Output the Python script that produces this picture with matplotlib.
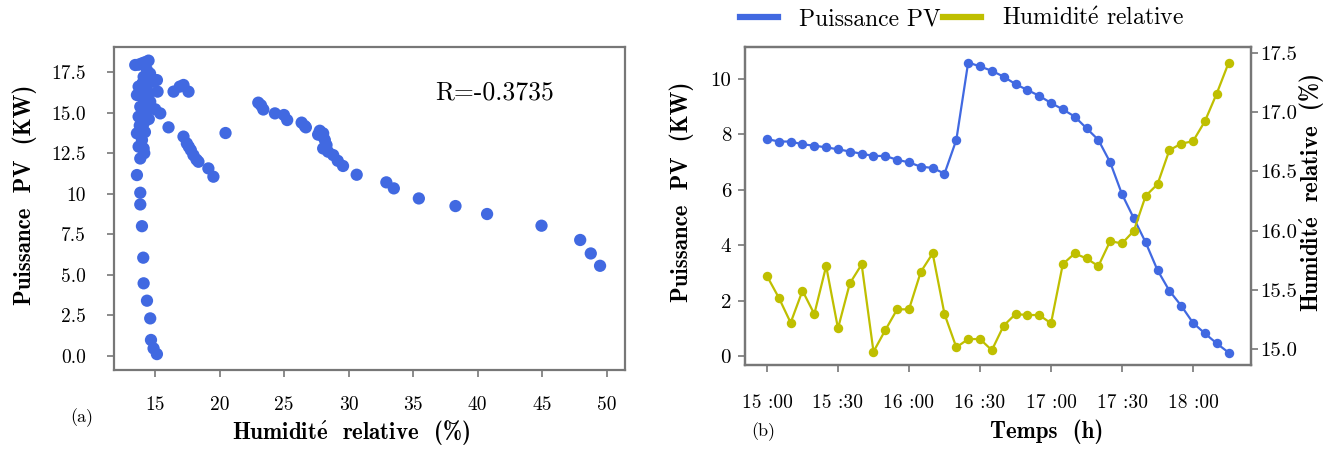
import matplotlib
matplotlib.use("Agg")
import matplotlib.pyplot as plt
from matplotlib.lines import Line2D
from matplotlib.ticker import FormatStrFormatter

plt.rcParams['font.family'] = 'serif'
plt.rcParams['font.serif'] = ['cmr10', 'DejaVu Serif']
plt.rcParams['mathtext.fontset'] = 'cm'
plt.rcParams['axes.unicode_minus'] = False

# ---------------- data (a) ----------------
humidity_a = [
    13.58, 13.84, 13.84, 13.97, 14.07, 14.10, 14.36, 14.61, 14.67, 14.87, 15.13,
    13.45, 13.70, 13.97, 14.20, 14.48, 14.36, 14.10, 15.13, 13.71, 14.00, 14.36,
    15.18, 13.58, 14.10, 14.61, 14.30, 13.84, 14.36, 15.39, 13.71, 14.10, 14.00,
    14.50, 13.58, 13.97, 13.71, 14.10, 13.84, 14.20, 14.60, 14.80, 15.00, 13.90,
    14.25, 13.80, 14.45, 14.15,
    16.03, 16.42, 16.90, 17.19, 17.58,
    17.19, 17.45, 17.60, 17.76, 17.96, 18.20, 18.35, 19.12, 19.51,
    20.45,
    22.99, 23.20, 23.38, 24.28, 24.98, 25.23, 26.35, 26.60, 26.68, 27.63, 27.76,
    28.02, 28.02, 28.15, 28.28, 28.02, 28.40, 28.80, 29.15, 29.56, 30.62, 32.92,
    33.50, 35.44, 38.28, 40.73, 44.95, 47.95, 48.77, 49.49,
]
power_a = [
    11.15, 10.06, 9.34, 8.00, 6.06, 4.48, 3.41, 2.32, 0.99, 0.47, 0.12,
    17.93, 17.95, 18.03, 18.10, 18.20, 17.62, 17.20, 17.00, 16.60, 16.80, 16.39,
    16.29, 16.08, 15.87, 15.67, 16.00, 15.36, 15.16, 14.95, 14.75, 14.33, 14.90,
    14.60, 13.72, 13.31, 12.90, 12.79, 12.17, 13.80, 17.40, 16.90, 15.20, 16.30,
    15.50, 14.20, 16.10, 12.50,
    14.09, 16.29, 16.60, 16.70, 16.29,
    13.52, 13.10, 12.90, 12.69, 12.38, 12.10, 11.97, 11.56, 11.05,
    13.74,
    15.61, 15.45, 15.19, 14.95, 14.85, 14.54, 14.38, 14.17, 14.09, 13.64, 13.88,
    13.72, 13.52, 13.31, 13.00, 12.79, 12.59, 12.38, 12.03, 11.71, 11.17, 10.70,
    10.33, 9.71, 9.24, 8.75, 8.03, 7.15, 6.32, 5.56,
]
xticks_a = [15, 20, 25, 30, 35, 40, 45, 50]
yticks_a = [0.0, 2.5, 5.0, 7.5, 10.0, 12.5, 15.0, 17.5]
yticklabels_a = ['0.0', '2.5', '5.0', '7.5', '10', '12.5', '15.0', '17.5']

# ---------------- data (b) ----------------
minutes_b = [0, 5, 10, 15, 20, 25, 30, 35, 40, 45, 50, 55, 60, 65, 70, 75, 80, 85, 90, 95,
             100, 105, 110, 115, 120, 125, 130, 135, 140, 145, 150, 155, 160, 165, 170,
             175, 180, 185, 190, 195]
power_b = [7.83, 7.74, 7.74, 7.64, 7.59, 7.53, 7.46, 7.38, 7.30, 7.22,
           7.22, 7.08, 6.99, 6.83, 6.79, 6.58, 7.80, 10.59, 10.45, 10.29,
           10.08, 9.81, 9.60, 9.39, 9.13, 8.90, 8.64, 8.22, 7.80, 6.99,
           5.84, 4.97, 4.10, 3.10, 2.36, 1.82, 1.20, 0.82, 0.46, 0.13]
humid_b = [15.616, 15.433, 15.222, 15.492, 15.295, 15.700, 15.174, 15.554, 15.714, 14.977,
           15.160, 15.335, 15.335, 15.652, 15.807, 15.295, 15.014, 15.084, 15.084, 14.990,
           15.197, 15.295, 15.287, 15.287, 15.217, 15.717, 15.807, 15.765, 15.700, 15.911,
           15.891, 15.998, 16.293, 16.391, 16.678, 16.734, 16.754, 16.922, 17.156, 17.414]
xticks_b = [0, 30, 60, 90, 120, 150, 180]
xticklabels_b = ['15 :00', '15 :30', '16 :00', '16 :30', '17 :00', '17 :30', '18 :00']
yticks_b_left = [0, 2, 4, 6, 8, 10]
yticks_b_right = [15.0, 15.5, 16.0, 16.5, 17.0, 17.5]

BLUE = '#4169E1'
YELLOW = '#BFBF00'
SPINE = '#777777'

fig = plt.figure(figsize=(13.44, 4.51), dpi=100)


def style_axes(ax):
    for s in ['left', 'right', 'top', 'bottom']:
        ax.spines[s].set_color(SPINE)
        ax.spines[s].set_linewidth(1.6)
    ax.tick_params(colors=SPINE, labelcolor='black', length=5, width=1.2)


# ---------------- panel (a) ----------------
ax1 = fig.add_axes([0.0848, 0.1796, 0.380, 0.7162])
ax1.scatter(humidity_a, power_a, s=78, color=BLUE, edgecolors='none', zorder=3)
ax1.set_xlim(11.8, 51.4)
ax1.set_ylim(-0.86, 19.04)
ax1.set_xticks(xticks_a)
ax1.set_xticklabels([str(v) for v in xticks_a])
ax1.set_yticks(yticks_a)
ax1.set_yticklabels(yticklabels_a)
style_axes(ax1)
ax1.tick_params(axis='x', labelsize=14, pad=14)
ax1.tick_params(axis='y', labelsize=14, pad=15)
ax1.text(0.745, 0.86, 'R=-0.3735', transform=ax1.transAxes, fontsize=18.5,
         ha='center', va='center')

# ---------------- panel (b) ----------------
ax2 = fig.add_axes([0.5543, 0.1907, 0.3765, 0.7051])
ax2.plot(minutes_b, power_b, color=BLUE, lw=1.6, marker='o', ms=6.8,
         markeredgewidth=0, zorder=3)
ax2.set_xlim(-9.3, 204.5)
ax2.set_ylim(-0.32, 11.15)
ax2.set_xticks(xticks_b)
ax2.set_xticklabels(xticklabels_b)
ax2.set_yticks(yticks_b_left)
style_axes(ax2)
ax2.tick_params(axis='x', labelsize=14, pad=16)
ax2.tick_params(axis='y', labelsize=15, pad=5)

ax3 = ax2.twinx()
ax3.plot(minutes_b, humid_b, color=YELLOW, lw=1.6, marker='o', ms=6.8,
         markeredgewidth=0, zorder=3)
ax3.set_ylim(14.865, 17.55)
ax3.set_yticks(yticks_b_right)
ax3.yaxis.set_major_formatter(FormatStrFormatter('%.1f'))
style_axes(ax3)
ax3.tick_params(axis='y', labelsize=15, pad=2)

handles = [Line2D([], [], color=BLUE, lw=4.5), Line2D([], [], color=YELLOW, lw=4.5)]
labels = ['Puissance PV', r'Humidit$\acute{\mathrm{e}}$ relative']
fig.legend(handles, labels, loc='center', bbox_to_anchor=(0.716, 0.958), ncol=2,
           frameon=False, fontsize=17, handlelength=1.6, handletextpad=0.9,
           columnspacing=0.1)

# ---------------- labels ----------------
lab_kw = dict(fontsize=16.5, ha='center', va='center', family='cmb10')
humid_label = r'Humidit$\mathbf{\acute{e}}$  relative  (%)'
pv_label = 'Puissance  PV  (KW)'
fig.text(0.0186, 0.5676, pv_label, rotation=90, **lab_kw)
fig.text(0.2612, 0.0421, humid_label, **lab_kw)
fig.text(0.5074, 0.5743, pv_label, rotation=90, **lab_kw)
fig.text(0.976, 0.572, humid_label, rotation=90, **lab_kw)
fig.text(0.779, 0.0421, 'Temps  (h)', **lab_kw)
fig.text(0.061, 0.0732, '(a)', fontsize=13, ha='center', va='center')
fig.text(0.5677, 0.0421, '(b)', fontsize=13, ha='center', va='center')

fig.savefig('out.png', dpi=100)
